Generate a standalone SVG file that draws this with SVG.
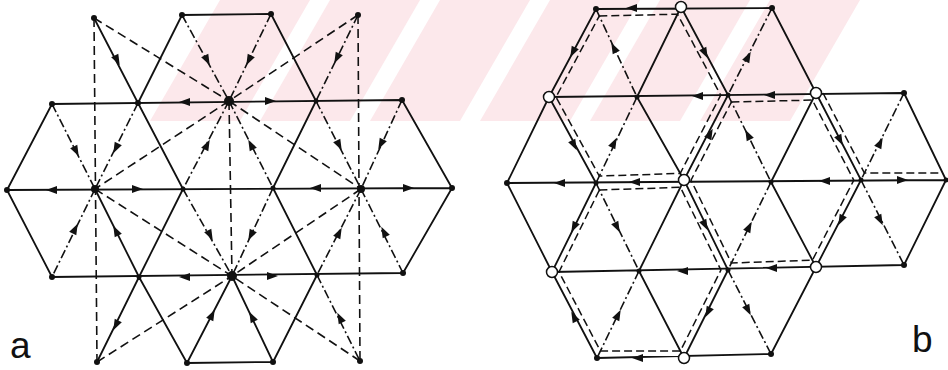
<svg xmlns="http://www.w3.org/2000/svg" xmlns:xlink="http://www.w3.org/1999/xlink" width="948" height="370" viewBox="0 0 948 370">
<style>
.s{stroke:#111;stroke-width:1.8;fill:none;stroke-linecap:round}
.d{stroke:#111;stroke-width:1.6;fill:none;stroke-dasharray:9 5}
.dd{stroke:#111;stroke-width:1.6;fill:none;stroke-dasharray:9 3 2 3}
.lp{stroke:#111;stroke-width:1.5;fill:none;stroke-dasharray:8 4}
.dot{fill:#111}
.open{fill:#fff;stroke:#111;stroke-width:1.5}
.ar{fill:#111}
.lbl{font-family:"Liberation Sans",Arial,sans-serif;font-size:37px;fill:#111}
.wm{fill:#fce8eb}
</style>
<defs>
<path id="ah" d="M6,0 L-5,-4 L-5,4 Z"/>
<clipPath id="wmclip"><rect x="140" y="0" width="740" height="121"/></clipPath>
</defs>
<g id="watermark" clip-path="url(#wmclip)">
<polygon class="wm" points="150,121 240,121 310,0 220,0"/>
<polygon class="wm" points="260,121 350,121 420,0 330,0"/>
<polygon class="wm" points="370,121 460,121 530,0 440,0"/>
<polygon class="wm" points="480,121 570,121 640,0 550,0"/>
<polygon class="wm" points="590,121 680,121 750,0 660,0"/>
<polygon class="wm" points="700,121 790,121 860,0 770,0"/>
</g>
<g id="connectors">
<g id="a-solid">
<path class="s" d="M182,15 L271,14 M52,104 L402,100 M7,190 L452,188 M52,277 L403,273 M187,363 L273,362 M182,15 L138,103 M271,14 L316,101 M52,104 L7,190 M138,103 L183,189 M316,101 L273,188 M402,100 L452,188 M7,190 L52,277 M183,189 L139,277 M273,188 L317,275 M452,188 L403,273 M139,277 L187,363 M317,275 L273,362 M94,18 L138,103 M95,189 L139,277 M139,277 L97,362 M232,276 L187,363 M232,276 L273,362"/>
</g>
<g id="a-dashdot">
<path class="dd" d="M182,15 L229,101 M271,14 L229,101 M358,15 L316,101 M52,104 L95,189 M138,103 L95,189 M229,101 L183,189 M229,101 L273,188 M316,101 L361,189 M402,100 L361,189 M95,189 L52,277 M183,189 L232,276 M273,188 L232,276 M361,189 L317,275 M361,189 L403,273 M317,275 L360,361"/>
</g>
<g id="a-dashed">
<path class="d" d="M94,18 L97,362 M358,15 L360,361 M229,101 L232,276 M94,18 L229,101 M358,15 L229,101 M229,101 L95,189 M229,101 L361,189 M95,189 L232,276 M361,189 L232,276 M97,362 L232,276 M360,361 L232,276"/>
</g>
<g id="a-arrows" class="ar">
<use xlink:href="#ah" transform="translate(117,60) rotate(63)"/>
<use xlink:href="#ah" transform="translate(207,60) rotate(63)"/>
<use xlink:href="#ah" transform="translate(249,60) rotate(117)"/>
<use xlink:href="#ah" transform="translate(337,58) rotate(117)"/>
<use xlink:href="#ah" transform="translate(185,102) rotate(180)"/>
<use xlink:href="#ah" transform="translate(270,101)"/>
<use xlink:href="#ah" transform="translate(76,151) rotate(63)"/>
<use xlink:href="#ah" transform="translate(116,148) rotate(117)"/>
<use xlink:href="#ah" transform="translate(207,145) rotate(-63)"/>
<use xlink:href="#ah" transform="translate(251,145) rotate(-117)"/>
<use xlink:href="#ah" transform="translate(339,145) rotate(63)"/>
<use xlink:href="#ah" transform="translate(381,144) rotate(117)"/>
<use xlink:href="#ah" transform="translate(52,190) rotate(180)"/>
<use xlink:href="#ah" transform="translate(137,189)"/>
<use xlink:href="#ah" transform="translate(316,188) rotate(180)"/>
<use xlink:href="#ah" transform="translate(408,188)"/>
<use xlink:href="#ah" transform="translate(75,229) rotate(-63)"/>
<use xlink:href="#ah" transform="translate(116,231) rotate(-117)"/>
<use xlink:href="#ah" transform="translate(210,235) rotate(63)"/>
<use xlink:href="#ah" transform="translate(251,235) rotate(117)"/>
<use xlink:href="#ah" transform="translate(339,233) rotate(-63)"/>
<use xlink:href="#ah" transform="translate(384,232) rotate(-117)"/>
<use xlink:href="#ah" transform="translate(185,277) rotate(180)"/>
<use xlink:href="#ah" transform="translate(272,276)"/>
<use xlink:href="#ah" transform="translate(116,325) rotate(117)"/>
<use xlink:href="#ah" transform="translate(212,315) rotate(-63)"/>
<use xlink:href="#ah" transform="translate(252,317) rotate(-117)"/>
<use xlink:href="#ah" transform="translate(340,318) rotate(-117)"/>
</g>
<g id="b-solid">
<path class="s" d="M596,9 L772,8 M549,97 L904,93 M507,183 L946,180 M552,272 L904,265 M597,358 L771,354 M596,9 L549,97 M681,7 L637,97 M681,7 L728,95 M772,8 L816,93 M549,97 L507,183 M549,97 L596,183 M637,97 L684,180 M728,95 L684,180 M816,93 L771,182 M816,93 L861,180 M904,93 L946,180 M507,183 L552,272 M596,183 L552,272 M684,180 L639,271 M684,180 L728,270 M771,182 L816,267 M861,180 L816,267 M946,180 L904,265 M552,272 L597,358 M639,271 L684,358 M728,270 L684,358 M816,267 L771,354"/>
</g>
<g id="b-dashdot">
<path class="dd" d="M596,9 L637,97 M772,8 L728,95 M637,97 L596,183 M728,95 L771,182 M904,93 L861,180 M596,183 L639,271 M771,182 L728,270 M861,180 L904,265 M639,271 L597,358 M728,270 L771,354"/>
</g>
<g id="b-loops">
<polygon class="lp" points="599.3,16 677.5,14.2 720.7,95.2 680.2,173.4 599.3,176.1 556,97"/>
<polygon class="lp" points="731.4,102 812.4,100.1 853.8,180.2 812.4,260.2 731.4,263 691,180.2"/>
<polygon class="lp" points="599.4,190 680.4,187.3 720.9,270.1 680.4,351 600.4,351 559,271.9"/>
<polyline class="lp" points="823,93 864.4,173 942.6,173"/>
</g>
<g id="b-arrows" class="ar">
<use xlink:href="#ah" transform="translate(632,8) rotate(180)"/>
<use xlink:href="#ah" transform="translate(573,52) rotate(117)"/>
<use xlink:href="#ah" transform="translate(614,48) rotate(-117)"/>
<use xlink:href="#ah" transform="translate(705,53) rotate(63)"/>
<use xlink:href="#ah" transform="translate(748,57) rotate(-63)"/>
<use xlink:href="#ah" transform="translate(698,96) rotate(180)"/>
<use xlink:href="#ah" transform="translate(770,95) rotate(180)"/>
<use xlink:href="#ah" transform="translate(574,145) rotate(63)"/>
<use xlink:href="#ah" transform="translate(614,143) rotate(-63)"/>
<use xlink:href="#ah" transform="translate(710,134) rotate(-63)"/>
<use xlink:href="#ah" transform="translate(748,135) rotate(-117)"/>
<use xlink:href="#ah" transform="translate(840,140) rotate(63)"/>
<use xlink:href="#ah" transform="translate(880,143) rotate(-63)"/>
<use xlink:href="#ah" transform="translate(560,183) rotate(180)"/>
<use xlink:href="#ah" transform="translate(635,182) rotate(180)"/>
<use xlink:href="#ah" transform="translate(825,181) rotate(180)"/>
<use xlink:href="#ah" transform="translate(902,180)"/>
<use xlink:href="#ah" transform="translate(574,227) rotate(117)"/>
<use xlink:href="#ah" transform="translate(617,227) rotate(63)"/>
<use xlink:href="#ah" transform="translate(705,225) rotate(63)"/>
<use xlink:href="#ah" transform="translate(749,227) rotate(-63)"/>
<use xlink:href="#ah" transform="translate(841,220) rotate(117)"/>
<use xlink:href="#ah" transform="translate(880,220) rotate(63)"/>
<use xlink:href="#ah" transform="translate(683,271) rotate(180)"/>
<use xlink:href="#ah" transform="translate(772,268) rotate(180)"/>
<use xlink:href="#ah" transform="translate(574,317) rotate(-117)"/>
<use xlink:href="#ah" transform="translate(618,315) rotate(-63)"/>
<use xlink:href="#ah" transform="translate(708,312) rotate(117)"/>
<use xlink:href="#ah" transform="translate(748,310) rotate(63)"/>
<use xlink:href="#ah" transform="translate(638,358) rotate(180)"/>
</g>
</g>
<g id="nodes-a">
<g id="a-A0"><circle class="dot" cx="94" cy="18" r="3"/></g>
<g id="a-A1"><circle class="dot" cx="182" cy="15" r="3"/></g>
<g id="a-A2"><circle class="dot" cx="271" cy="14" r="3"/></g>
<g id="a-A3"><circle class="dot" cx="358" cy="15" r="3"/></g>
<g id="a-B0"><circle class="dot" cx="52" cy="104" r="3"/></g>
<g id="a-B1"><circle class="dot" cx="138" cy="103" r="3"/></g>
<g id="a-B2"><circle class="dot" cx="229" cy="101" r="5"/></g>
<g id="a-B3"><circle class="dot" cx="316" cy="101" r="2.5"/></g>
<g id="a-B4"><circle class="dot" cx="402" cy="100" r="3"/></g>
<g id="a-C0"><circle class="dot" cx="7" cy="190" r="3"/></g>
<g id="a-C1"><circle class="dot" cx="95" cy="189" r="4"/></g>
<g id="a-C2"><circle class="dot" cx="183" cy="189" r="2.5"/></g>
<g id="a-C3"><circle class="dot" cx="273" cy="188" r="2.5"/></g>
<g id="a-C4"><circle class="dot" cx="361" cy="189" r="4"/></g>
<g id="a-C5"><circle class="dot" cx="452" cy="188" r="3"/></g>
<g id="a-D0"><circle class="dot" cx="52" cy="277" r="3"/></g>
<g id="a-D1"><circle class="dot" cx="139" cy="277" r="2.5"/></g>
<g id="a-D2"><circle class="dot" cx="232" cy="276" r="5"/></g>
<g id="a-D3"><circle class="dot" cx="317" cy="275" r="2.5"/></g>
<g id="a-D4"><circle class="dot" cx="403" cy="273" r="3"/></g>
<g id="a-E0"><circle class="dot" cx="97" cy="362" r="3"/></g>
<g id="a-E1"><circle class="dot" cx="187" cy="363" r="3"/></g>
<g id="a-E2"><circle class="dot" cx="273" cy="362" r="3"/></g>
<g id="a-E3"><circle class="dot" cx="360" cy="361" r="3"/></g>
</g>
<g id="nodes-b">
<g id="b-00"><circle class="dot" cx="596" cy="9" r="3"/></g>
<g id="b-01"><circle class="open" cx="681" cy="7" r="5.5"/></g>
<g id="b-02"><circle class="dot" cx="772" cy="8" r="3"/></g>
<g id="b-10"><circle class="open" cx="549" cy="97" r="5.5"/></g>
<g id="b-11"><circle class="dot" cx="637" cy="97" r="2.5"/></g>
<g id="b-12"><circle class="dot" cx="728" cy="95" r="2.5"/></g>
<g id="b-13"><circle class="open" cx="816" cy="93" r="5.5"/></g>
<g id="b-14"><circle class="dot" cx="904" cy="93" r="3"/></g>
<g id="b-20"><circle class="dot" cx="507" cy="183" r="3"/></g>
<g id="b-21"><circle class="dot" cx="596" cy="183" r="2.5"/></g>
<g id="b-22"><circle class="open" cx="684" cy="180" r="5.5"/></g>
<g id="b-23"><circle class="dot" cx="771" cy="182" r="2.5"/></g>
<g id="b-24"><circle class="dot" cx="861" cy="180" r="2.5"/></g>
<g id="b-25"><circle class="dot" cx="946" cy="180" r="2.5"/></g>
<g id="b-30"><circle class="open" cx="552" cy="272" r="5.5"/></g>
<g id="b-31"><circle class="dot" cx="639" cy="271" r="2.5"/></g>
<g id="b-32"><circle class="dot" cx="728" cy="270" r="2.5"/></g>
<g id="b-33"><circle class="open" cx="816" cy="267" r="5.5"/></g>
<g id="b-34"><circle class="dot" cx="904" cy="265" r="3"/></g>
<g id="b-40"><circle class="dot" cx="597" cy="358" r="3"/></g>
<g id="b-41"><circle class="open" cx="684" cy="358" r="5.5"/></g>
<g id="b-42"><circle class="dot" cx="771" cy="354" r="3"/></g>
</g>
<g id="labels">
<text class="lbl" x="10" y="358">a</text>
<text class="lbl" x="912" y="352">b</text>
</g>
</svg>
